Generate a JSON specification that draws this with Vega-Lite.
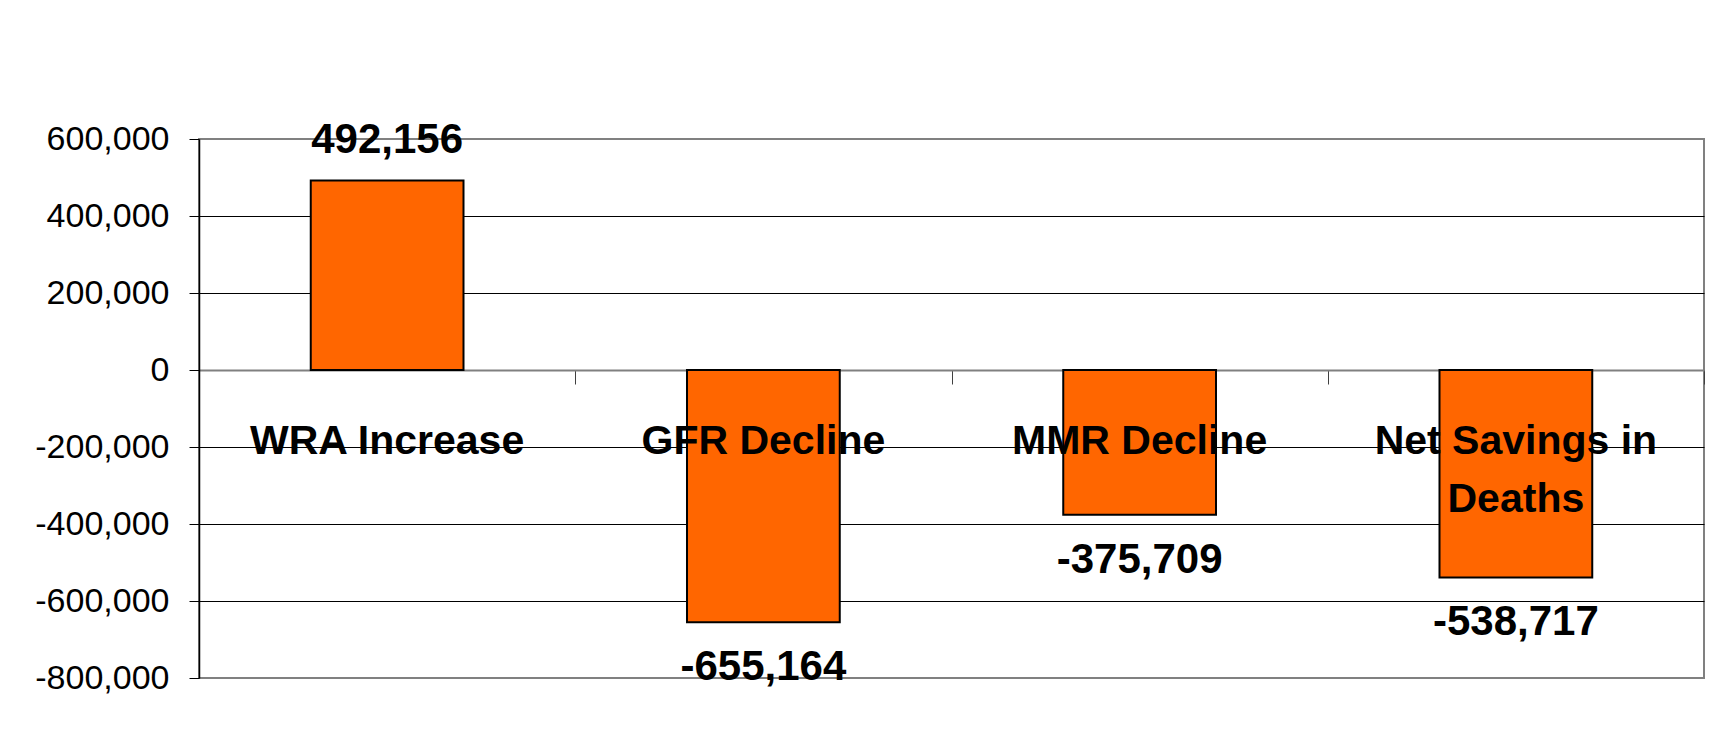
{
  "$schema": "https://vega.github.io/schema/vega-lite/v6.json",
  "width": 1505,
  "height": 539,
  "autosize": {"type": "none"},
  "padding": {"left": 199, "top": 139, "right": 21, "bottom": 51},
  "background": "white",
  "config": {
    "locale": {"number": {"decimal": ".", "thousands": ",", "grouping": [3], "currency": ["$", ""], "minus": "-"}},
    "view": {"stroke": "#808080", "strokeWidth": 2},
    "font": "Liberation Sans"
  },
  "data": {
    "values": [
      {"cat": "WRA Increase", "label": "WRA Increase", "value": 492156},
      {"cat": "GFR Decline", "label": "GFR Decline", "value": -655164},
      {"cat": "MMR Decline", "label": "MMR Decline", "value": -375709},
      {"cat": "Net Savings in Deaths", "label": "Net Savings in\nDeaths", "value": -538717}
    ]
  },
  "encoding": {
    "x": {
      "field": "cat",
      "type": "nominal",
      "sort": null,
      "scale": {"paddingInner": 0, "paddingOuter": 0},
      "axis": {
        "title": null,
        "labels": false,
        "grid": false,
        "domain": true,
        "domainColor": "#808080",
        "domainWidth": 2,
        "ticks": true,
        "tickBand": "extent",
        "tickSize": 14,
        "tickColor": "#404040",
        "tickWidth": 1,
        "offset": -308
      }
    },
    "y": {
      "field": "value",
      "type": "quantitative",
      "scale": {"domain": [-800000, 600000], "nice": false, "zero": true},
      "axis": {
        "title": null,
        "values": [-800000, -600000, -400000, -200000, 0, 200000, 400000, 600000],
        "labelExpr": "format(datum.value, ',')",
        "labelFont": "Liberation Sans",
        "labelFontSize": 34,
        "labelColor": "#000000",
        "labelPadding": 20,
        "domainColor": "#000000",
        "domainWidth": 1.5,
        "tickColor": "#000000",
        "tickSize": 10,
        "tickWidth": 1,
        "grid": true,
        "gridColor": {"condition": {"test": "datum.value == 600000 || datum.value == -800000 || datum.value == 0", "value": "#808080"}, "value": "#000000"},
        "gridWidth": 1
      }
    }
  },
  "layer": [
    {
      "mark": {"type": "bar", "width": {"band": 0.406}, "fill": "#FF6600", "stroke": "#000000", "strokeWidth": 2}
    },
    {
      "transform": [{"filter": "datum.value > 0"}],
      "mark": {"type": "text", "fontSize": 42, "fontWeight": "bold", "baseline": "alphabetic", "align": "center", "dy": -28, "color": "#000000"},
      "encoding": {
        "text": {"field": "value", "type": "quantitative", "format": ","}
      }
    },
    {
      "transform": [{"filter": "datum.value < 0"}],
      "mark": {"type": "text", "fontSize": 42, "fontWeight": "bold", "baseline": "alphabetic", "align": "center", "dy": 58, "color": "#000000"},
      "encoding": {
        "text": {"field": "value", "type": "quantitative", "format": ","}
      }
    },
    {
      "mark": {"type": "text", "fontSize": 41, "fontWeight": "bold", "baseline": "alphabetic", "align": "center", "dy": 84, "lineBreak": "\n", "lineHeight": 58, "color": "#000000"},
      "encoding": {
        "y": {"datum": 0, "type": "quantitative"},
        "text": {"field": "label"}
      }
    }
  ]
}
